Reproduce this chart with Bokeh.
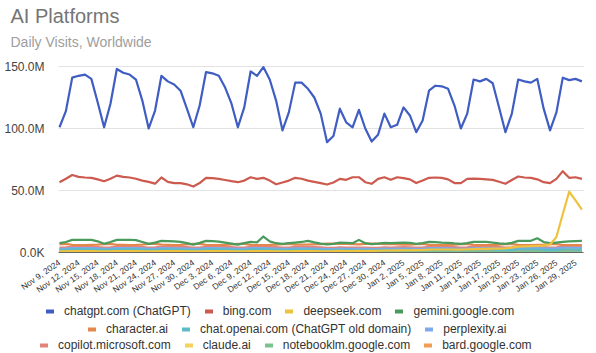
import math
import numpy as np
import pandas as pd
from bokeh.plotting import figure
from bokeh.models import Range1d, FixedTicker, Legend, LegendItem, Title, ColumnDataSource
from bokeh.embed import file_html
from bokeh.resources import INLINE

# ---------------- data ----------------
dates = pd.date_range("2024-11-09", "2025-01-31", freq="D")
day = list(range(len(dates)))
tick_days = list(range(0, 82, 3))
tick_labels = [dates[i].strftime("%b %-d, %Y") for i in tick_days]
y_ticks = [0, 50e6, 100e6, 150e6]
y_tick_labels = ["0.0K", "50.0M", "100.0M", "150.0M"]

chatgpt = [101, 114, 141, 142.5, 143.5, 140, 121,
           101, 120, 148, 145, 143.5, 139.5, 122.5,
           100, 114.5, 142.5, 138, 135.5, 130.5, 116,
           101, 118.5, 145.5, 144.5, 142.5, 133, 120,
           101, 117, 146, 142.5, 149.5, 139.5, 122.5,
           98.5, 113, 137, 137, 132, 125, 112,
           89, 94, 116, 105, 101, 115, 100,
           89.5, 95, 112, 101, 103, 117, 110.5,
           97, 106.5, 130.5, 134.5, 134, 132, 118.5,
           100, 112, 139.5, 138, 140, 136.5, 117,
           97, 112, 139.5, 138, 137, 140, 116,
           98.5, 113, 141, 139, 140, 138]

bing = [56.7, 59.5, 62.5, 61.0, 60.5, 60.2, 59.0,
        57.5, 59.5, 62.0, 61.0, 60.5, 59.5, 58.0,
        57.0, 55.5, 60.5, 57.0, 56.0, 56.0, 55.0,
        53.2, 56.0, 60.2, 60.0, 59.4, 58.5, 57.5,
        56.7, 58.0, 60.7, 59.4, 60.2, 58.0, 55.0,
        56.5, 58.0, 60.2, 59.5, 58.0, 57.0, 56.0,
        54.8, 56.5, 59.4, 58.6, 60.7, 60.7, 56.7,
        55.4, 59.4, 60.7, 58.6, 60.7, 60.0, 59.0,
        56.0, 58.0, 60.2, 60.5, 60.2, 59.0, 56.0,
        56.0, 59.4, 59.5, 59.4, 59.0, 58.6, 57.0,
        55.4, 58.5, 61.3, 60.5, 60.2, 59.0, 56.7,
        56.0, 59.4, 65.6, 60.2, 60.7, 59.4]

deepseek = [1.0, 1.0, 1.1, 1.1, 1.1, 1.1, 1.0,
            1.0, 1.0, 1.1, 1.1, 1.1, 1.1, 1.0,
            1.0, 1.0, 1.1, 1.1, 1.1, 1.1, 1.0,
            1.0, 1.0, 1.2, 1.2, 1.2, 1.1, 1.0,
            1.0, 1.0, 1.2, 1.2, 1.2, 1.1, 1.0,
            1.0, 1.0, 1.2, 1.2, 1.1, 1.1, 1.0,
            1.0, 1.1, 1.3, 1.2, 1.2, 1.3, 1.2,
            1.3, 1.4, 1.6, 1.6, 1.7, 1.8, 1.8,
            1.9, 2.0, 2.3, 2.4, 2.4, 2.4, 2.3,
            2.3, 2.5, 2.8, 2.9, 3.0, 3.1, 3.2,
            3.4, 3.9, 4.8, 5.0, 5.2, 5.4, 5.6,
            6.5, 12.5, 31.0, 49.0, 42.0, 34.5]

gemini = [7.5, 8.5, 10.2, 10.2, 10.3, 10.2, 9.0,
          7.0, 8.5, 10.2, 10.2, 10.3, 10.0, 8.5,
          7.0, 8.0, 9.4, 9.2, 9.0, 8.6, 7.5,
          6.4, 7.8, 9.4, 9.2, 8.8, 8.0, 7.2,
          6.4, 7.5, 8.6, 8.2, 12.9, 9.0, 7.5,
          7.0, 7.5, 8.0, 8.5, 9.4, 8.2, 7.2,
          6.5, 7.0, 8.0, 7.8, 7.5, 10.2, 7.5,
          6.8, 7.2, 7.8, 7.5, 7.8, 8.0, 7.8,
          7.0, 7.5, 8.6, 8.4, 8.0, 7.8, 7.3,
          7.0, 7.5, 8.6, 8.6, 8.5, 8.0, 7.4,
          7.0, 7.8, 9.4, 9.4, 9.4, 11.5, 8.5,
          7.5, 8.0, 8.6, 9.0, 9.2, 9.4]

character = [6.8, 6.9, 6.2, 6.0, 6.0, 6.1, 6.3,
             6.8, 6.9, 6.2, 6.1, 6.0, 6.1, 6.4,
             6.9, 7.0, 6.3, 6.1, 6.0, 6.1, 6.5,
             7.0, 7.0, 6.2, 6.0, 6.0, 6.2, 6.5,
             6.9, 6.9, 6.1, 6.0, 6.0, 6.1, 6.4,
             6.8, 6.9, 6.4, 6.3, 6.3, 6.5, 6.8,
             7.1, 7.2, 7.0, 6.9, 6.8, 6.6, 6.9,
             7.2, 7.1, 6.8, 6.9, 6.6, 6.3, 6.4,
             6.8, 6.9, 6.2, 6.0, 6.0, 6.1, 6.4,
             6.8, 6.8, 6.1, 6.0, 5.9, 6.0, 6.3,
             6.7, 6.8, 6.1, 6.0, 6.0, 6.1, 6.3,
             6.7, 6.7, 6.0, 5.9, 5.9, 6.0]

chat_openai = [2.1, 2.2, 2.6, 2.6, 2.6, 2.5, 2.3,
               2.1, 2.2, 2.6, 2.6, 2.5, 2.5, 2.3,
               2.1, 2.1, 2.5, 2.5, 2.4, 2.4, 2.2,
               2.0, 2.1, 2.5, 2.5, 2.5, 2.4, 2.2,
               2.0, 2.1, 2.5, 2.5, 2.6, 2.4, 2.2,
               2.0, 2.1, 2.4, 2.4, 2.3, 2.2, 2.0,
               1.8, 1.9, 2.1, 2.0, 1.9, 2.0, 1.9,
               1.8, 1.9, 2.1, 2.0, 2.0, 2.2, 2.1,
               1.9, 2.0, 2.4, 2.4, 2.4, 2.3, 2.1,
               1.9, 2.0, 2.4, 2.4, 2.4, 2.3, 2.1,
               1.9, 2.0, 2.4, 2.4, 2.4, 2.4, 2.1,
               1.9, 2.0, 2.4, 2.4, 2.3, 2.3]

perplexity = [3.0, 3.1, 3.5, 3.6, 3.6, 3.5, 3.3,
              3.0, 3.1, 3.5, 3.6, 3.6, 3.5, 3.3,
              3.0, 3.1, 3.5, 3.5, 3.4, 3.4, 3.2,
              2.9, 3.0, 3.5, 3.5, 3.5, 3.4, 3.2,
              2.9, 3.0, 3.5, 3.5, 3.6, 3.4, 3.2,
              2.9, 3.0, 3.4, 3.4, 3.3, 3.2, 3.0,
              2.7, 2.8, 3.1, 3.0, 2.9, 3.0, 2.9,
              2.7, 2.8, 3.1, 3.0, 3.1, 3.2, 3.1,
              2.9, 3.0, 3.5, 3.5, 3.5, 3.4, 3.2,
              3.0, 3.1, 3.6, 3.6, 3.6, 3.5, 3.2,
              3.0, 3.1, 3.6, 3.6, 3.6, 3.6, 3.3,
              3.1, 3.3, 3.9, 4.0, 3.9, 3.8]

copilot = [4.0, 4.1, 4.6, 4.7, 4.7, 4.6, 4.4,
           4.0, 4.1, 4.6, 4.7, 4.7, 4.6, 4.4,
           4.0, 4.1, 4.6, 4.6, 4.5, 4.5, 4.3,
           3.9, 4.0, 4.6, 4.6, 4.6, 4.5, 4.3,
           3.9, 4.0, 4.6, 4.6, 4.7, 4.5, 4.3,
           3.9, 4.0, 4.5, 4.5, 4.4, 4.3, 4.1,
           3.7, 3.8, 4.1, 4.0, 3.9, 4.0, 3.9,
           3.7, 3.8, 4.1, 4.0, 4.1, 4.3, 4.2,
           3.9, 4.0, 4.6, 4.6, 4.6, 4.5, 4.3,
           4.0, 4.1, 4.7, 4.7, 4.7, 4.6, 4.3,
           4.0, 4.1, 4.7, 4.7, 4.7, 4.7, 4.4,
           4.0, 4.1, 4.7, 4.7, 4.6, 4.6]

claude = [2.6, 2.7, 3.1, 3.2, 3.2, 3.1, 2.9,
          2.6, 2.7, 3.1, 3.2, 3.2, 3.1, 2.9,
          2.6, 2.7, 3.1, 3.1, 3.0, 3.0, 2.8,
          2.5, 2.6, 3.1, 3.1, 3.1, 3.0, 2.8,
          2.5, 2.6, 3.1, 3.1, 3.2, 3.0, 2.8,
          2.5, 2.6, 3.0, 3.0, 2.9, 2.8, 2.6,
          2.3, 2.4, 2.7, 2.6, 2.5, 2.6, 2.5,
          2.3, 2.4, 2.7, 2.6, 2.7, 2.8, 2.7,
          2.5, 2.6, 3.1, 3.1, 3.1, 3.0, 2.8,
          2.6, 2.7, 3.2, 3.2, 3.2, 3.1, 2.8,
          2.6, 2.7, 3.2, 3.2, 3.2, 3.2, 2.9,
          2.6, 2.7, 3.1, 3.1, 3.0, 3.0]

notebooklm = [0.6, 0.6, 0.7, 0.7, 0.7, 0.7, 0.6,
              0.6, 0.6, 0.7, 0.7, 0.7, 0.7, 0.6,
              0.6, 0.6, 0.7, 0.7, 0.7, 0.7, 0.6,
              0.6, 0.6, 0.7, 0.7, 0.7, 0.7, 0.6,
              0.6, 0.6, 0.7, 0.7, 0.7, 0.7, 0.6,
              0.6, 0.6, 0.7, 0.7, 0.7, 0.7, 0.6,
              0.5, 0.5, 0.6, 0.6, 0.5, 0.6, 0.5,
              0.5, 0.5, 0.6, 0.6, 0.6, 0.7, 0.7,
              0.7, 0.7, 0.8, 0.8, 0.8, 0.8, 0.7,
              0.7, 0.7, 0.8, 0.8, 0.8, 0.8, 0.7,
              0.7, 0.7, 0.8, 0.8, 0.8, 0.8, 0.7,
              0.7, 0.7, 0.8, 0.8, 0.8, 0.8]

bard = [1.4, 1.4, 1.5, 1.5, 1.5, 1.5, 1.4,
        1.4, 1.4, 1.5, 1.5, 1.5, 1.5, 1.4,
        1.4, 1.4, 1.5, 1.5, 1.5, 1.5, 1.4,
        1.3, 1.4, 1.5, 1.5, 1.5, 1.5, 1.4,
        1.3, 1.4, 1.5, 1.5, 1.5, 1.5, 1.4,
        1.3, 1.4, 1.5, 1.5, 1.5, 1.4, 1.3,
        1.2, 1.3, 1.4, 1.3, 1.3, 1.3, 1.3,
        1.2, 1.3, 1.4, 1.3, 1.4, 1.4, 1.4,
        1.3, 1.3, 1.5, 1.5, 1.5, 1.5, 1.4,
        1.3, 1.4, 1.5, 1.5, 1.5, 1.5, 1.4,
        1.3, 1.4, 1.5, 1.5, 1.5, 1.5, 1.4,
        1.3, 1.4, 1.5, 1.5, 1.5, 1.5]

series = [
    ("chatgpt.com (ChatGPT)", chatgpt, "#3f5dc2"),
    ("bing.com", bing, "#cc5a4e"),
    ("deepseek.com", deepseek, "#eec23f"),
    ("gemini.google.com", gemini, "#4a9a5c"),
    ("character.ai", character, "#e4874c"),
    ("chat.openai.com (ChatGPT old domain)", chat_openai, "#5cbcc6"),
    ("perplexity.ai", perplexity, "#7fa9ea"),
    ("copilot.microsoft.com", copilot, "#e3847b"),
    ("claude.ai", claude, "#f3d25e"),
    ("notebooklm.google.com", notebooklm, "#7cc28f"),
    ("bard.google.com", bard, "#f29d56"),
]
legend_rows = [[0, 1, 2, 3], [4, 5, 6], [7, 8, 9, 10]]
legend_row_pos = [(46, 34), (88, 16.5), (40, 0)]

FONT = "Liberation Sans"

# frame spans x 0..596 and y 52..353; data area: day 0 -> px 59, day 82 -> px 581.4,
# 0 -> px 252, 150M -> px 66
PX_PER_DAY = (581.4 - 59.0) / 82
PX_PER_M = (252.0 - 66.0) / 150.0
x_start = -59.0 / PX_PER_DAY
x_end = (596.0 - 59.0) / PX_PER_DAY
y_end = (252.0 - 52.0) / PX_PER_M * 1e6
y_start = -(353.0 - 252.0) / PX_PER_M * 1e6
X_LEFT = -1.0 / PX_PER_DAY   # px 58
X_RIGHT = 82 + 2.0 / PX_PER_DAY  # px 583.4

p = figure(width=596, height=353, output_backend="svg", toolbar_location=None,
           x_range=Range1d(x_start, x_end), y_range=Range1d(y_start, y_end), title=None,
           min_border_left=0, min_border_right=0, min_border_top=0, min_border_bottom=0)
p.outline_line_color = None
p.background_fill_color = "white"
p.border_fill_color = "white"

sub = Title(text="Daily Visits, Worldwide", text_font_size="14px", text_color="#9e9e9e",
            text_font=FONT, text_font_style="normal", align="left", offset=10, standoff=6)
main = Title(text="AI Platforms", text_font_size="20px", text_color="#757575",
             text_font=FONT, text_font_style="normal", align="left", offset=10, standoff=4)
p.add_layout(sub, "above")
p.add_layout(main, "above")

p.xgrid.visible = False
p.ygrid.visible = False
p.segment(x0=[X_LEFT] * 3, x1=[X_RIGHT] * 3, y0=y_ticks[1:], y1=y_ticks[1:],
          line_color="#e2e2e2", line_width=1)

for i in list(range(len(series)))[::-1]:
    name, vals, col = series[i]
    src = ColumnDataSource(dict(x=day, y=[v * 1e6 for v in vals]))
    p.line("x", "y", source=src, line_color=col, line_width=2.2, line_join="round")

p.yaxis.fixed_location = X_LEFT
p.yaxis.ticker = FixedTicker(ticks=y_ticks)
p.yaxis.major_label_overrides = {t: lab for t, lab in zip(y_ticks, y_tick_labels)}
p.yaxis.axis_line_color = None
p.yaxis.major_tick_line_color = None
p.yaxis.minor_tick_line_color = None
p.yaxis.major_label_standoff = 8
p.yaxis.major_label_text_font = FONT
p.yaxis.major_label_text_font_size = "12px"
p.yaxis.major_label_text_color = "#444444"

p.xaxis.fixed_location = 0
p.xaxis.bounds = (X_LEFT, X_RIGHT)
p.xaxis.ticker = FixedTicker(ticks=tick_days)
p.xaxis.major_label_overrides = {d: lab for d, lab in zip(tick_days, tick_labels)}
p.xaxis.major_label_orientation = math.radians(35)
p.xaxis.axis_line_color = "#666666"
p.xaxis.major_tick_line_color = None
p.xaxis.minor_tick_line_color = None
p.xaxis.major_label_standoff = 3
p.xaxis.major_label_text_font = FONT
p.xaxis.major_label_text_font_size = "8.5px"
p.xaxis.major_label_text_color = "#333333"

legend_renderers = {}
for i, (name, vals, col) in enumerate(series):
    legend_renderers[i] = p.line(x=np.array([0.0]), y=np.array([np.nan]), line_color=col,
                                 line_width=4, line_cap="round")

for r, idxs in enumerate(legend_rows):
    items = [LegendItem(label=series[i][0], renderers=[legend_renderers[i]]) for i in idxs]
    lg = Legend(items=items, orientation="horizontal", location=legend_row_pos[r],
                padding=0, margin=0, spacing=14, label_standoff=10,
                glyph_width=8, glyph_height=16, label_height=16,
                label_text_font=FONT, label_text_font_size="12px", label_text_color="#333333",
                border_line_color=None, background_fill_alpha=0)
    p.add_layout(lg, "center")

open("out.html", "w").write(file_html(p, INLINE))
